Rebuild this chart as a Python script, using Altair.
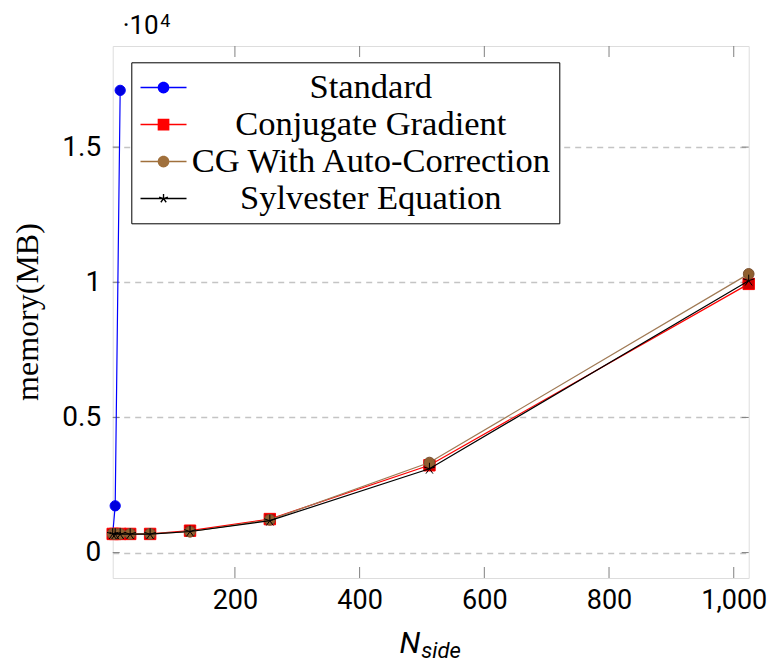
import math
import altair as alt
import pandas as pd

# ---------------- data ----------------
series_names = ["Standard", "Conjugate Gradient", "CG With Auto-Correction", "Sylvester Equation"]
n_side = [4, 8, 16, 32, 64, 128, 256, 512, 1024]
standard_n = [4, 8, 16]
standard_mem = [690, 1730, 17100]
cg_mem = [690, 690, 690, 690, 690, 810, 1240, 3230, 9940]
cgac_mem = [690, 690, 690, 690, 690, 770, 1210, 3330, 10310]
syl_mem = [680, 680, 680, 680, 680, 780, 1180, 3100, 10060]
x_ticks = [200, 400, 600, 800, 1000]
y_ticks = [0, 5000, 10000, 15000]

rows = []
for n, m in zip(standard_n, standard_mem):
    rows.append({"series": series_names[0], "n": n, "mem": m})
for name, vals in zip(series_names[1:], [cg_mem, cgac_mem, syl_mem]):
    for n, m in zip(n_side, vals):
        rows.append({"series": name, "n": n, "mem": m})
df = pd.DataFrame(rows)

W, H = 636, 532

xs = alt.Scale(domain=[4, 1024], nice=False, zero=False)
ys = alt.Scale(domain=[-940, 18740], nice=False, zero=False)

x_axis = alt.Axis(values=x_ticks, labelExpr="format(datum.value, ',')", title=None, grid=False,
                  ticks=False, domain=False,
                  labelFont="Roboto", labelFontSize=27, labelPadding=9, labelColor="black",
                  labelFlush=False)
y_axis = alt.Axis(values=y_ticks, labelExpr="format(datum.value/10000, '~g')", grid=True,
                  gridDash=[6, 5], gridColor="#c4c4c4", gridWidth=1.3, ticks=False, domain=False,
                  labelFont="Roboto", labelFontSize=28, labelPadding=12, labelColor="black",
                  labelFlush=False, title=None)

X = alt.X("n:Q", scale=xs, axis=x_axis)
Y = alt.Y("mem:Q", scale=ys, axis=y_axis)


# ---------------- legend symbol paths ----------------
SX = 0.41  # horizontal shift of the legend glyph inside its slot


def f(v):
    return f"{v:.4f}"


def rect(x0, x1, h):
    x0 += SX
    x1 += SX
    return f"M{f(x0)},{f(-h)}L{f(x1)},{f(-h)}L{f(x1)},{f(h)}L{f(x0)},{f(h)}Z"


def circle(r):
    return (f"M{f(-r + SX)},0A{f(r)},{f(r)} 0 1,0 {f(r + SX)},0"
            f"A{f(r)},{f(r)} 0 1,0 {f(-r + SX)},0Z")


def square(r):
    return (f"M{f(-r + SX)},{f(-r)}L{f(r + SX)},{f(-r)}L{f(r + SX)},{f(r)}"
            f"L{f(-r + SX)},{f(r)}Z")


def star_spokes(r, w):
    parts = []
    for k in range(5):
        a = math.radians(90 + 72 * k)
        tx, ty = r * math.cos(a), -r * math.sin(a)
        px, py = -math.sin(a) * w, -math.cos(a) * w
        pts = [(px, py), (tx + px, ty + py), (tx - px, ty - py), (-px, -py)]
        s = sum(pts[i][0] * pts[(i + 1) % 4][1] - pts[(i + 1) % 4][0] * pts[i][1] for i in range(4))
        if s < 0:
            pts = pts[::-1]
        parts.append("M" + "L".join(f"{f(x + SX)},{f(y)}" for x, y in pts) + "Z")
    return "".join(parts)


L = 1.353
hw = 0.04
rm = 0.344
leg_circle = rect(-L, -rm, hw) + rect(rm, L, hw) + circle(rm)
leg_square = rect(-L, -rm, hw) + rect(rm, L, hw) + square(rm)
leg_star = rect(-L, L, hw) + star_spokes(0.27, 0.04)
legend_paths = [leg_circle, leg_square, leg_circle, leg_star]
legend_colors = ["#0000ff", "#ff0000", "#a0703c", "#000000"]

leg = alt.Legend(orient="none", legendX=18.6, legendY=16.3, title=None, symbolSize=1156,
                 symbolStrokeWidth=0, symbolOpacity=1, labelFont="Liberation Serif",
                 labelFontSize=34.5, labelColor="black", labelAlign="center", labelOffset=197,
                 labelLimit=0, padding=8, strokeColor="black", fillColor="white",
                 rowPadding=2, cornerRadius=0)

legend_layer = alt.Chart(df).mark_point(filled=True, opacity=0).encode(
    x=X, y=Y,
    color=alt.Color("series:N", scale=alt.Scale(domain=series_names, range=legend_colors), legend=leg),
    shape=alt.Shape("series:N", scale=alt.Scale(domain=series_names, range=legend_paths), legend=leg),
)

# ---------------- series layers ----------------
star_path = "M0,0L0,-1M0,0L0.951,-0.309M0,0L0.588,0.809M0,0L-0.588,0.809M0,0L-0.951,-0.309"


def series_layers(name, line_color, point_kwargs):
    base = alt.Chart(df).transform_filter(alt.datum.series == name)
    line = base.mark_line(color=line_color, strokeWidth=1.2).encode(x=X, y=Y, order="n:Q")
    pts = base.mark_point(opacity=1, **point_kwargs).encode(x=X, y=Y)
    return [line, pts]


layers = []
layers += series_layers("Standard", "#0000ff",
                        dict(shape="circle", size=105, filled=True, fill="#0000dd", stroke="#0000ff", strokeWidth=1))
layers += series_layers("Conjugate Gradient", "#ff0000",
                        dict(shape="square", size=130, filled=True, fill="#cc0000", stroke="#ff0000", strokeWidth=1))
layers += series_layers("CG With Auto-Correction", "#a07a55",
                        dict(shape="circle", size=115, filled=True, fill="#8f5f2f", stroke="#7a5030", strokeWidth=1))
layers += series_layers("Sylvester Equation", "#000000",
                        dict(shape=star_path, size=144, filled=False, stroke="#000000", strokeWidth=1))

# ---------------- inward ticks ----------------
xt = pd.DataFrame({"n": x_ticks})
yt = pd.DataFrame({"mem": y_ticks})
tick_color = "#808080"
tick_layers = [
    alt.Chart(xt).mark_rule(color=tick_color, strokeWidth=1).encode(x=X, y=alt.value(H), y2=alt.value(H - 11)),
    alt.Chart(xt).mark_rule(color=tick_color, strokeWidth=1).encode(x=X, y=alt.value(0), y2=alt.value(11)),
    alt.Chart(yt).mark_rule(color=tick_color, strokeWidth=1).encode(y=Y, x=alt.value(0), x2=alt.value(7)),
    alt.Chart(yt).mark_rule(color=tick_color, strokeWidth=1).encode(y=Y, x=alt.value(W), x2=alt.value(W - 7)),
]

# ---------------- text labels ----------------
one = pd.DataFrame({"k": [0]})
text_layers = [
    alt.Chart(one).mark_text(text="memory(MB)", font="Liberation Serif", fontSize=32, angle=270,
                             align="center", baseline="middle", color="black"
                             ).encode(x=alt.value(-84.5), y=alt.value(H / 2)),
    alt.Chart(one).mark_text(text="N", font="Roboto", fontStyle="italic", fontSize=30, align="right",
                             baseline="alphabetic", color="black").encode(x=alt.value(307.5), y=alt.value(607)),
    alt.Chart(one).mark_text(text="side", font="Roboto", fontStyle="italic", fontSize=22, align="left",
                             baseline="alphabetic", color="black").encode(x=alt.value(308.5), y=alt.value(612)),
    alt.Chart(one).mark_text(text="·10", font="Roboto", fontSize=26, align="left",
                             baseline="alphabetic", color="black").encode(x=alt.value(10), y=alt.value(-12)),
    alt.Chart(one).mark_text(text="4", font="Roboto", fontSize=18, align="left",
                             baseline="alphabetic", color="black").encode(x=alt.value(47.5), y=alt.value(-19)),
]

chart = alt.layer(*tick_layers, *layers, legend_layer, *text_layers).properties(
    width=W, height=H,
    autosize=alt.AutoSizeParams(type="none"),
    padding={"left": 104.7, "top": 38, "right": 18.3, "bottom": 84},
).configure_view(stroke="#606060", strokeWidth=1.5).configure(background="white")

chart.save("out.html", embed_options={"renderer": "svg", "actions": False})
